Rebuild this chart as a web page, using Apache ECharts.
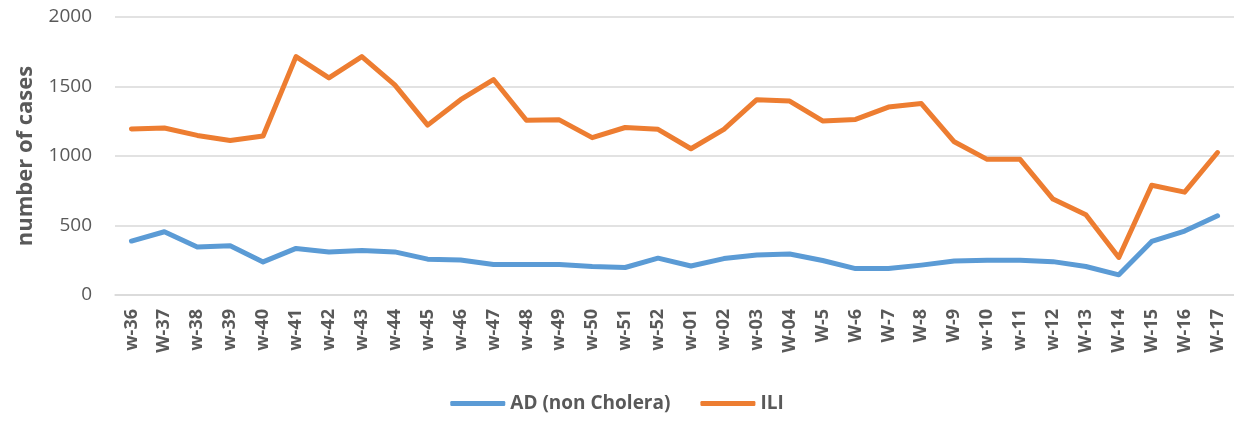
<!DOCTYPE html>
<html lang="en">
<head>
<meta charset="UTF-8">
<title>AD / ILI weekly cases</title>
<script src="https://cdn.jsdelivr.net/npm/echarts@6/dist/echarts.min.js"></script>
<style>
  html, body { margin: 0; padding: 0; background: #fff; }
  #chart { width: 1234px; height: 423px; }
</style>
</head>
<body>
<div id="chart"></div>
<script>
// weeks on the x axis (spelling kept as in the source)
var weeks = ['w-36', 'W-37', 'w-38', 'w-39', 'w-40', 'w-41', 'w-42', 'w-43', 'w-44', 'w-45', 'w-46', 'w-47',
  'w-48', 'w-49', 'w-50', 'w-51', 'w-52', 'w-01', 'w-02', 'w-03', 'W-04', 'W-5', 'W-6', 'W-7', 'W-8',
  'W-9', 'w-10', 'w-11', 'w-12', 'W-13', 'W-14', 'W-15', 'W-16', 'W-17'];

var adCases = [388, 455, 345, 355, 238, 335, 310, 320, 310, 258, 252, 220,
  220, 220, 205, 198, 265, 209, 262, 288, 295, 248, 190, 190, 215,
  244, 250, 250, 240, 205, 145, 385, 460, 570];

var iliCases = [1195, 1201, 1148, 1112, 1144, 1715, 1562, 1715, 1512, 1222, 1405, 1550,
  1257, 1260, 1132, 1205, 1192, 1052, 1192, 1405, 1395, 1252, 1263, 1352, 1377,
  1102, 976, 976, 690, 578, 270, 790, 740, 1025];

var seriesNames = ['AD (non Cholera)', 'ILI'];
var yTicks = { min: 0, max: 2000, interval: 500 };

var myChart = echarts.init(document.getElementById('chart'));

var font = '"Open Sans", "Noto Sans", sans-serif';
var option = {
  color: ['#5B9BD5', '#ED7D31'],
  animation: false,
  grid: {
    left: 115,
    right: 0,
    top: 17,
    bottom: 128
  },
  legend: {
    data: seriesNames,
    bottom: 5,
    left: 'center',
    itemWidth: 55,
    itemHeight: 5,
    itemGap: 30,
    icon: 'roundRect',
    textStyle: { fontFamily: font, fontSize: 19, fontWeight: 'bold', color: '#595959' }
  },
  xAxis: {
    type: 'category',
    data: weeks,
    boundaryGap: true,
    axisLine: { lineStyle: { color: '#d9d9d9', width: 1.5 } },
    axisTick: { show: false },
    axisLabel: {
      rotate: 90,
      margin: 14,
      interval: 0,
      fontFamily: font,
      fontSize: 18,
      fontWeight: 'bold',
      color: '#595959'
    }
  },
  yAxis: {
    type: 'value',
    min: yTicks.min,
    max: yTicks.max,
    interval: yTicks.interval,
    name: 'number of cases',
    nameLocation: 'middle',
    nameGap: 78,
    nameTextStyle: { fontFamily: font, fontSize: 22, fontWeight: 'bold', color: '#595959' },
    axisLine: { show: false },
    axisTick: { show: false },
    splitLine: { lineStyle: { color: '#d9d9d9', width: 1.5 } },
    axisLabel: {
      margin: 23,
      fontFamily: font,
      fontSize: 19,
      color: '#595959',
      formatter: function(v) { return String(v); }
    }
  },
  series: [{
    name: seriesNames[0],
    type: 'line',
    data: adCases,
    symbol: 'none',
    lineStyle: { width: 5, cap: 'round', join: 'round' }
  }, {
    name: seriesNames[1],
    type: 'line',
    data: iliCases,
    symbol: 'none',
    lineStyle: { width: 5, cap: 'round', join: 'round' }
  }]
};

myChart.setOption(option);
</script>
</body>
</html>
